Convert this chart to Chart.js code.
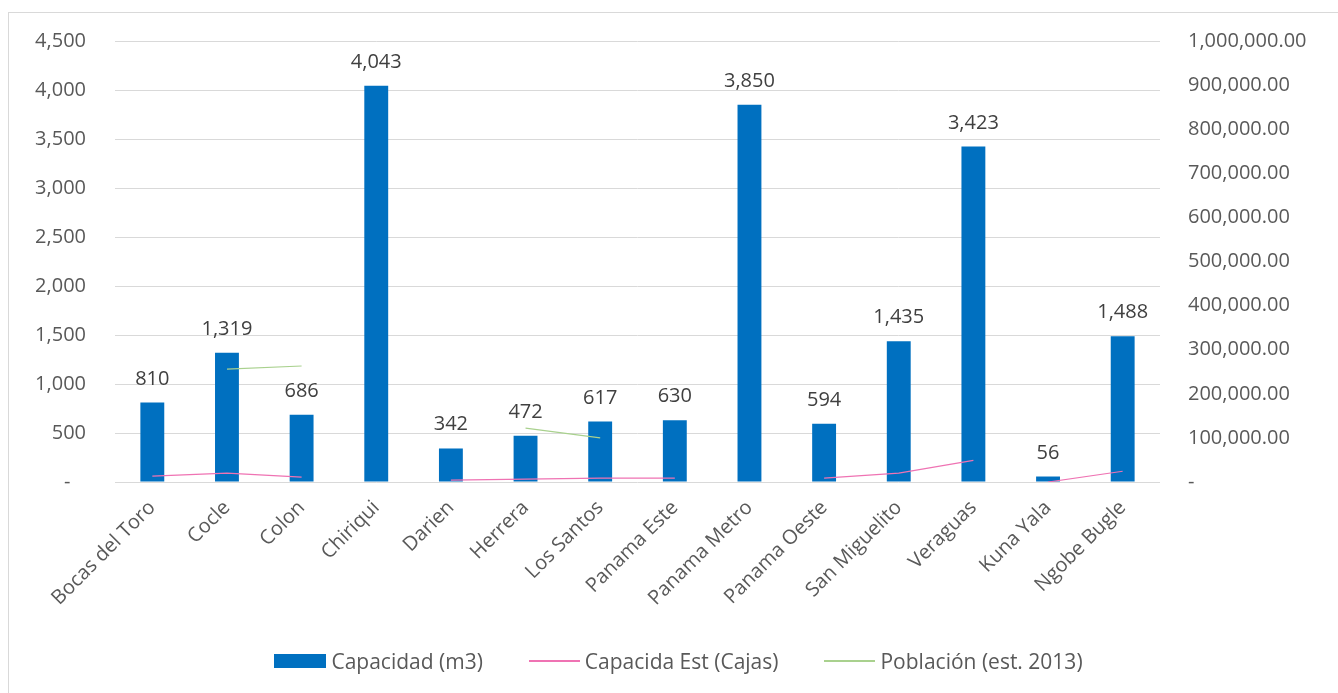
<!DOCTYPE html>
<html>
<head>
<meta charset="utf-8">
<script src="https://cdn.jsdelivr.net/npm/chart.js@4.4.1/dist/chart.umd.min.js"></script>
<style>
    html, body { margin: 0; padding: 0; background: #fff; overflow: hidden; }
    #wrap { position: relative; width: 1338px; height: 693px; }
    #frame { position: absolute; left: 8px; top: 12px; width: 1340px; height: 700px; border: 1px solid #d9d9d9; box-sizing: border-box; }
    canvas { position: absolute; left: 0; top: 0; }
    #legend {
        position: absolute; left: 8px; width: 1341px; top: 648px; height: 26px;
        display: flex; justify-content: center; align-items: center;
        font: 21px 'Open Sans', sans-serif; color: #595959;
    }
    #legend .item { display: flex; align-items: center; margin: 0 23px; }
    #legend .sw { display: inline-block; margin-right: 5px; }
</style>
</head>
<body>
<div id="wrap">
    <div id="frame"></div>
    <canvas id="chart" width="1338" height="693"></canvas>
    <div id="legend"></div>
</div>
<script>
const categories = ['Bocas del Toro', 'Cocle', 'Colon', 'Chiriqui', 'Darien', 'Herrera', 'Los Santos', 'Panama Este', 'Panama Metro', 'Panama Oeste', 'San Miguelito', 'Veraguas', 'Kuna Yala', 'Ngobe Bugle'];
const capacidad = [810, 1319, 686, 4043, 342, 472, 617, 630, 3850, 594, 1435, 3423, 56, 1488];
const capacidadEst = [60, 90, 50, null, 20, 30, 40, 40, null, 40, 90, 220, 0, 110];
const poblacion = [null, 256000, 263000, null, null, 122000, 100000, null, null, null, null, null, null, null];

const leftTicks = { min: 0, max: 4500, step: 500 };
const rightTicks = { min: 0, max: 1000000, step: 100000 };

const tickFont = { family: "'Open Sans', sans-serif", size: 20 };

// labels above the bars
const barLabels = {
    id: 'barLabels',
    afterDatasetsDraw(chart) {
        const ctx = chart.ctx;
        const meta = chart.getDatasetMeta(0);
        ctx.save();
        ctx.font = "20px 'Open Sans', sans-serif";
        ctx.fillStyle = '#404040';
        ctx.textAlign = 'center';
        ctx.textBaseline = 'alphabetic';
        meta.data.forEach((bar, i) => {
            ctx.fillText(capacidad[i].toLocaleString('en-US'), bar.x, bar.y - 18);
        });
        ctx.restore();
    }
};

const chart = new Chart(document.getElementById('chart'), {
    type: 'bar',
    data: {
        labels: categories,
        datasets: [
            {
                label: 'Capacidad (m3)',
                data: capacidad,
                backgroundColor: '#0070c0',
                barPercentage: 0.4,
                categoryPercentage: 0.8,
                yAxisID: 'y',
                order: 1
            },
            {
                type: 'line',
                label: 'Capacida Est (Cajas)',
                data: capacidadEst,
                borderColor: '#ef73b3',
                borderWidth: 1.2,
                pointRadius: 0,
                tension: 0,
                spanGaps: false,
                yAxisID: 'y',
                order: 0,
                segment: {
                    borderColor: ctx => (ctx.p0DataIndex === 11 ? 'rgba(0,0,0,0)' : undefined)
                }
            },
            {
                type: 'line',
                label: 'Población (est. 2013)',
                data: poblacion,
                borderColor: '#a9d18e',
                borderWidth: 1.2,
                pointRadius: 0,
                tension: 0,
                spanGaps: false,
                yAxisID: 'y1',
                order: 0
            }
        ]
    },
    options: {
        responsive: false,
        animation: false,
        layout: { padding: { top: 41, left: 0, right: 0, bottom: 0 } },
        plugins: {
            legend: { display: false },
            tooltip: { enabled: false }
        },
        scales: {
            x: {
                grid: { display: false },
                border: { display: false },
                ticks: {
                    color: '#595959',
                    font: tickFont,
                    minRotation: 45,
                    maxRotation: 45,
                    padding: 6,
                    autoSkip: false
                },
                afterFit(scale) { scale.height = 211; }
            },
            y: {
                position: 'left',
                min: leftTicks.min,
                max: leftTicks.max,
                grid: { color: '#d9d9d9', drawTicks: false },
                border: { display: false },
                ticks: {
                    stepSize: leftTicks.step,
                    color: '#595959',
                    font: tickFont,
                    padding: 29,
                    callback: v => (v === 0 ? '-   ' : v.toLocaleString('en-US'))
                },
                afterFit(scale) { scale.width = 115; }
            },
            y1: {
                position: 'right',
                min: rightTicks.min,
                max: rightTicks.max,
                grid: { display: false, drawTicks: false },
                border: { display: false },
                ticks: {
                    stepSize: rightTicks.step,
                    color: '#595959',
                    font: tickFont,
                    padding: 28,
                    callback: v => (v === 0 ? '-' : v.toLocaleString('en-US', { minimumFractionDigits: 2, maximumFractionDigits: 2 }))
                },
                afterFit(scale) { scale.width = 178; }
            }
        }
    },
    plugins: [barLabels]
});

// html legend built from the datasets
const legend = document.getElementById('legend');
chart.data.datasets.forEach(ds => {
    const item = document.createElement('span');
    item.className = 'item';
    const sw = document.createElement('span');
    sw.className = 'sw';
    if (ds.type === 'line') {
        sw.style.width = '51px';
        sw.style.height = '2px';
        sw.style.background = ds.borderColor;
    } else {
        sw.style.width = '52px';
        sw.style.height = '14px';
        sw.style.background = ds.backgroundColor;
    }
    item.appendChild(sw);
    item.appendChild(document.createTextNode(ds.label));
    legend.appendChild(item);
});
</script>
</body>
</html>
